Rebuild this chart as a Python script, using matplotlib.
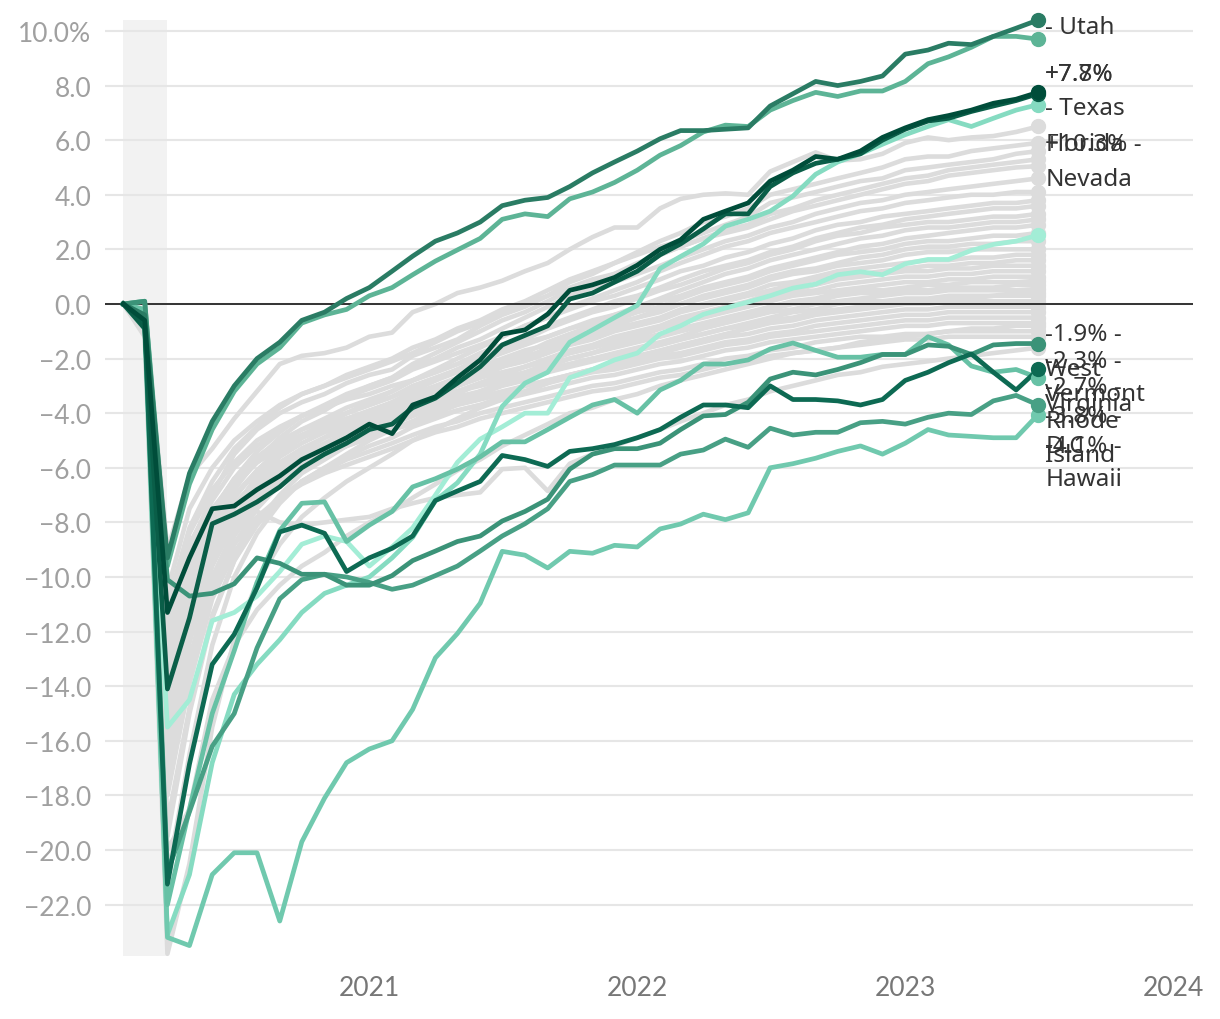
import matplotlib
matplotlib.use("Agg")
import matplotlib.pyplot as plt
import matplotlib.dates as mdates
import pandas as pd
from matplotlib.ticker import FuncFormatter

# Monthly change in jobs since Feb 2020, in percent
months = pd.date_range("2020-02-01", periods=42, freq="MS")

# ---- background states (gray) ----
gray_01 = [0, -0.3, -9.0, -6.3, -5.3, -4.2, -3.2, -2.2, -1.9, -1.8, -1.6, -1.2, -1.05, -0.3, 0.0, 0.4, 0.6, 0.85, 1.2, 1.5, 2.0, 2.45, 2.8, 2.8, 3.5, 3.85, 4.0, 4.05, 4.0, 4.85, 5.2, 5.55, 5.25, 5.3, 5.5, 5.9, 6.1, 6.0, 6.1, 6.15, 6.3, 6.5]
gray_02 = [0, -0.6, -12.5, -9.0, -7.0, -5.5, -4.6, -4.0, -3.6, -3.3, -2.9, -2.6, -2.4, -1.9, -1.6, -1.3, -0.8, -0.4, -0.1, 0.3, 0.8, 1.1, 1.5, 1.9, 2.3, 2.6, 3.0, 3.2, 3.5, 4.0, 4.2, 4.4, 4.6, 4.8, 5.0, 5.3, 5.4, 5.4, 5.6, 5.7, 5.8, 5.9]
gray_03 = [0, -0.5, -11.0, -8.2, -6.5, -5.3, -4.5, -3.8, -3.3, -3.0, -2.6, -2.3, -2.0, -1.6, -1.3, -0.9, -0.6, -0.2, 0.1, 0.5, 0.9, 1.2, 1.5, 1.8, 2.1, 2.3, 2.6, 2.9, 3.2, 3.7, 3.9, 4.1, 4.3, 4.5, 4.6, 4.9, 5.0, 5.1, 5.2, 5.3, 5.5, 5.6]
gray_04 = [0, -0.8, -14.0, -10.5, -8.2, -6.8, -5.7, -4.9, -4.3, -3.9, -3.4, -3.0, -2.7, -2.2, -1.8, -1.4, -1.0, -0.6, -0.3, 0.1, 0.5, 0.8, 1.1, 1.5, 1.8, 2.1, 2.4, 2.7, 2.9, 3.3, 3.5, 3.8, 4.0, 4.2, 4.4, 4.6, 4.7, 4.9, 5.0, 5.1, 5.2, 5.3]
gray_05 = [0, -0.4, -10.5, -7.5, -6.0, -5.0, -4.3, -3.7, -3.3, -3.0, -2.7, -2.4, -2.1, -1.8, -1.4, -1.0, -0.7, -0.3, 0.0, 0.3, 0.6, 0.9, 1.1, 1.4, 1.8, 2.1, 2.4, 2.6, 2.8, 3.1, 3.4, 3.6, 3.8, 4.0, 4.2, 4.4, 4.5, 4.7, 4.8, 4.9, 5.0, 5.05]
gray_06 = [0, -0.7, -13.0, -9.5, -7.6, -6.4, -5.4, -4.7, -4.1, -3.7, -3.3, -3.0, -2.7, -2.3, -2.0, -1.6, -1.3, -0.9, -0.5, -0.1, 0.3, 0.6, 0.8, 1.1, 1.4, 1.7, 2.0, 2.3, 2.5, 2.8, 3.0, 3.3, 3.5, 3.7, 3.8, 4.0, 4.1, 4.2, 4.3, 4.4, 4.5, 4.6]
gray_07 = [0, -0.9, -15.5, -11.8, -9.0, -7.5, -6.3, -5.5, -4.9, -4.4, -4.0, -3.6, -3.2, -2.8, -2.4, -2.0, -1.6, -1.2, -0.8, -0.5, -0.1, 0.2, 0.5, 0.8, 1.2, 1.5, 1.8, 2.1, 2.3, 2.6, 2.8, 3.0, 3.2, 3.4, 3.5, 3.7, 3.8, 3.9, 4.0, 4.0, 4.1, 4.1]
gray_08 = [0, -0.5, -12.0, -8.8, -7.2, -6.0, -5.2, -4.6, -4.1, -3.8, -3.4, -3.1, -2.8, -2.4, -2.1, -1.8, -1.5, -1.2, -0.8, -0.5, -0.2, 0.1, 0.3, 0.6, 0.9, 1.2, 1.4, 1.7, 1.9, 2.2, 2.4, 2.7, 2.9, 3.0, 3.2, 3.3, 3.4, 3.5, 3.6, 3.7, 3.7, 3.8]
gray_09 = [0, -0.6, -13.5, -10.0, -8.0, -6.7, -5.8, -5.1, -4.6, -4.2, -3.8, -3.5, -3.2, -2.8, -2.5, -2.2, -1.8, -1.5, -1.2, -0.8, -0.5, -0.2, 0.1, 0.3, 0.6, 0.9, 1.2, 1.4, 1.6, 1.9, 2.1, 2.4, 2.6, 2.8, 2.9, 3.1, 3.2, 3.3, 3.4, 3.5, 3.5, 3.6]
gray_10 = [0, -1.0, -17.0, -13.0, -10.0, -8.3, -7.0, -6.1, -5.4, -4.9, -4.4, -4.0, -3.6, -3.2, -2.8, -2.4, -2.0, -1.6, -1.3, -0.9, -0.6, -0.3, -0.1, 0.2, 0.5, 0.7, 1.0, 1.3, 1.5, 1.8, 2.0, 2.3, 2.5, 2.6, 2.8, 2.9, 3.0, 3.0, 3.1, 3.2, 3.2, 3.3]
gray_11 = [0, -0.7, -14.5, -10.8, -8.5, -7.1, -6.1, -5.3, -4.8, -4.4, -4.0, -3.7, -3.4, -3.0, -2.7, -2.4, -2.1, -1.8, -1.5, -1.2, -0.9, -0.6, -0.4, -0.1, 0.2, 0.5, 0.8, 1.1, 1.3, 1.6, 1.8, 2.0, 2.2, 2.4, 2.5, 2.7, 2.8, 2.8, 2.9, 3.0, 3.0, 3.1]
gray_12 = [0, -0.4, -11.5, -8.4, -6.8, -5.8, -5.0, -4.5, -4.1, -3.8, -3.5, -3.3, -3.0, -2.8, -2.5, -2.2, -1.9, -1.7, -1.4, -1.2, -0.9, -0.7, -0.4, -0.2, 0.1, 0.3, 0.6, 0.8, 1.0, 1.3, 1.5, 1.7, 1.9, 2.1, 2.2, 2.4, 2.5, 2.6, 2.7, 2.8, 2.8, 2.9]
gray_13 = [0, -0.8, -16.0, -12.0, -9.3, -7.8, -6.7, -5.9, -5.3, -4.9, -4.5, -4.2, -3.8, -3.4, -3.1, -2.8, -2.4, -2.1, -1.8, -1.4, -1.1, -0.8, -0.6, -0.3, -0.1, 0.2, 0.5, 0.7, 0.9, 1.2, 1.4, 1.6, 1.8, 1.9, 2.0, 2.2, 2.3, 2.3, 2.4, 2.5, 2.5, 2.6]
gray_14 = [0, -0.5, -12.8, -9.4, -7.6, -6.4, -5.6, -5.0, -4.6, -4.3, -4.0, -3.7, -3.4, -3.1, -2.8, -2.5, -2.3, -2.0, -1.7, -1.5, -1.2, -1.0, -0.7, -0.5, -0.2, 0.0, 0.3, 0.5, 0.7, 1.0, 1.2, 1.3, 1.5, 1.7, 1.8, 2.0, 2.1, 2.1, 2.2, 2.2, 2.3, 2.3]
gray_15 = [0, -0.9, -18.0, -13.8, -10.6, -8.8, -7.5, -6.6, -5.9, -5.4, -5.0, -4.6, -4.2, -3.8, -3.4, -3.0, -2.7, -2.3, -2.0, -1.6, -1.3, -1.1, -0.8, -0.5, -0.3, 0.0, 0.2, 0.4, 0.6, 0.9, 1.1, 1.2, 1.4, 1.5, 1.6, 1.8, 1.9, 1.9, 2.0, 2.0, 2.0, 2.0]
gray_16 = [0, -0.6, -14.0, -10.4, -8.3, -7.0, -6.1, -5.4, -4.9, -4.5, -4.2, -3.9, -3.6, -3.3, -3.0, -2.7, -2.5, -2.2, -1.9, -1.7, -1.4, -1.2, -0.9, -0.7, -0.5, -0.2, 0.0, 0.2, 0.4, 0.7, 0.8, 1.0, 1.2, 1.3, 1.4, 1.5, 1.6, 1.6, 1.7, 1.7, 1.8, 1.8]
gray_17 = [0, -0.7, -15.0, -11.2, -8.8, -7.4, -6.4, -5.6, -5.1, -4.7, -4.4, -4.1, -3.8, -3.5, -3.2, -2.9, -2.6, -2.3, -2.1, -1.8, -1.5, -1.3, -1.0, -0.8, -0.6, -0.3, -0.1, 0.1, 0.3, 0.5, 0.7, 0.9, 1.0, 1.1, 1.2, 1.3, 1.4, 1.4, 1.5, 1.5, 1.6, 1.6]
gray_18 = [0, -1.1, -19.5, -15.0, -11.5, -9.4, -8.0, -7.0, -6.2, -5.7, -5.2, -4.8, -4.4, -4.0, -3.6, -3.3, -2.9, -2.6, -2.3, -2.0, -1.7, -1.5, -1.2, -1.0, -0.8, -0.5, -0.3, -0.1, 0.1, 0.4, 0.5, 0.7, 0.9, 1.0, 1.1, 1.2, 1.2, 1.3, 1.3, 1.4, 1.4, 1.4]
gray_19 = [0, -0.5, -13.0, -9.6, -7.8, -6.6, -5.8, -5.2, -4.8, -4.5, -4.2, -4.0, -3.7, -3.5, -3.2, -3.0, -2.7, -2.5, -2.3, -2.0, -1.8, -1.6, -1.3, -1.1, -0.9, -0.6, -0.4, -0.2, 0.0, 0.2, 0.4, 0.5, 0.7, 0.8, 0.9, 1.0, 1.0, 1.1, 1.1, 1.2, 1.2, 1.2]
gray_20 = [0, -0.8, -16.5, -12.4, -9.6, -8.0, -6.9, -6.1, -5.5, -5.1, -4.7, -4.4, -4.1, -3.8, -3.5, -3.2, -2.9, -2.6, -2.3, -2.1, -1.8, -1.6, -1.4, -1.2, -0.9, -0.7, -0.5, -0.3, -0.1, 0.1, 0.3, 0.4, 0.5, 0.6, 0.7, 0.8, 0.8, 0.9, 0.9, 1.0, 1.0, 1.0]
gray_21 = [0, -0.6, -14.8, -11.0, -8.7, -7.4, -6.5, -5.8, -5.3, -4.9, -4.6, -4.3, -4.0, -3.7, -3.4, -3.2, -2.9, -2.7, -2.5, -2.2, -2.0, -1.8, -1.5, -1.3, -1.1, -0.9, -0.7, -0.5, -0.3, -0.1, 0.1, 0.2, 0.4, 0.5, 0.5, 0.6, 0.7, 0.7, 0.8, 0.8, 0.8, 0.85]
gray_22 = [0, -1.0, -21.0, -16.5, -12.5, -10.0, -8.4, -7.3, -6.5, -6.0, -5.5, -5.0, -4.6, -4.3, -3.9, -3.6, -3.2, -2.9, -2.6, -2.3, -2.0, -1.8, -1.6, -1.4, -1.2, -1.0, -0.8, -0.6, -0.4, -0.2, 0.0, 0.1, 0.3, 0.4, 0.4, 0.5, 0.5, 0.6, 0.6, 0.6, 0.7, 0.7]
gray_23 = [0, -0.7, -15.8, -11.8, -9.2, -7.8, -6.8, -6.1, -5.6, -5.2, -4.9, -4.6, -4.3, -4.0, -3.7, -3.4, -3.2, -2.9, -2.7, -2.4, -2.2, -2.0, -1.8, -1.6, -1.4, -1.2, -0.9, -0.7, -0.5, -0.3, -0.2, 0.0, 0.1, 0.2, 0.3, 0.4, 0.4, 0.5, 0.5, 0.5, 0.5, 0.55]
gray_24 = [0, -0.9, -17.5, -13.3, -10.2, -8.5, -7.3, -6.4, -5.8, -5.4, -5.0, -4.7, -4.4, -4.1, -3.8, -3.5, -3.3, -3.0, -2.8, -2.5, -2.3, -2.1, -1.9, -1.7, -1.5, -1.3, -1.1, -0.9, -0.7, -0.5, -0.3, -0.2, 0.0, 0.1, 0.1, 0.2, 0.2, 0.3, 0.3, 0.3, 0.4, 0.4]
gray_25 = [0, -0.5, -12.5, -9.3, -7.5, -6.5, -5.8, -5.3, -4.9, -4.6, -4.3, -4.1, -3.9, -3.6, -3.4, -3.2, -3.0, -2.8, -2.6, -2.4, -2.2, -2.0, -1.9, -1.7, -1.5, -1.3, -1.1, -0.9, -0.8, -0.6, -0.5, -0.3, -0.2, -0.1, 0.0, 0.1, 0.1, 0.2, 0.2, 0.3, 0.3, 0.3]
gray_26 = [0, -1.2, -23.8, -20.5, -15.5, -12.3, -10.2, -8.8, -7.8, -7.1, -6.5, -6.0, -5.5, -5.0, -4.6, -4.2, -3.8, -3.5, -3.2, -2.9, -2.6, -2.4, -2.1, -1.9, -1.7, -1.5, -1.3, -1.1, -0.9, -0.7, -0.6, -0.4, -0.3, -0.2, -0.1, 0.0, 0.0, 0.1, 0.1, 0.1, 0.1, 0.1]
gray_27 = [0, -0.8, -16.0, -12.1, -9.5, -8.1, -7.1, -6.4, -5.9, -5.5, -5.2, -4.9, -4.6, -4.3, -4.0, -3.7, -3.5, -3.3, -3.0, -2.8, -2.6, -2.4, -2.2, -2.0, -1.8, -1.6, -1.4, -1.2, -1.1, -0.9, -0.8, -0.6, -0.5, -0.4, -0.3, -0.2, -0.2, -0.1, -0.1, -0.1, -0.1, -0.1]
gray_28 = [0, -0.6, -14.2, -10.6, -8.5, -7.3, -6.5, -5.9, -5.5, -5.2, -4.9, -4.6, -4.4, -4.1, -3.8, -3.6, -3.4, -3.2, -3.0, -2.8, -2.6, -2.4, -2.3, -2.1, -1.9, -1.8, -1.6, -1.4, -1.3, -1.1, -1.0, -0.8, -0.7, -0.6, -0.5, -0.4, -0.4, -0.3, -0.3, -0.3, -0.3, -0.3]
gray_29 = [0, -1.0, -19.0, -14.8, -11.4, -9.4, -8.1, -7.2, -6.5, -6.0, -5.6, -5.2, -4.9, -4.5, -4.2, -3.9, -3.7, -3.4, -3.2, -2.9, -2.7, -2.5, -2.4, -2.2, -2.0, -1.9, -1.7, -1.5, -1.4, -1.2, -1.1, -1.0, -0.9, -0.8, -0.7, -0.6, -0.6, -0.5, -0.5, -0.5, -0.5, -0.5]
gray_30 = [0, -0.7, -15.2, -11.5, -9.1, -7.8, -6.9, -6.3, -5.8, -5.5, -5.2, -4.9, -4.6, -4.4, -4.1, -3.9, -3.7, -3.5, -3.3, -3.1, -2.9, -2.7, -2.6, -2.4, -2.2, -2.1, -1.9, -1.7, -1.6, -1.4, -1.3, -1.2, -1.1, -1.0, -0.9, -0.8, -0.8, -0.7, -0.7, -0.7, -0.7, -0.7]
gray_31 = [0, -0.9, -17.8, -13.9, -10.8, -9.1, -7.9, -7.1, -6.5, -6.1, -5.7, -5.4, -5.1, -4.8, -4.5, -4.3, -4.0, -3.8, -3.6, -3.4, -3.2, -3.0, -2.9, -2.7, -2.5, -2.4, -2.2, -2.0, -1.9, -1.7, -1.6, -1.4, -1.3, -1.2, -1.2, -1.1, -1.1, -1.0, -1.0, -1.0, -1.0, -1.0]
gray_32 = [0, -0.8, -16.8, -13.0, -10.3, -8.8, -7.8, -7.1, -6.6, -6.2, -5.9, -5.6, -5.3, -5.0, -4.7, -4.5, -4.2, -4.0, -3.8, -3.6, -3.4, -3.2, -3.1, -2.9, -2.7, -2.6, -2.4, -2.2, -2.1, -1.9, -1.8, -1.7, -1.6, -1.5, -1.4, -1.3, -1.3, -1.2, -1.2, -1.2, -1.2, -1.2]
gray_33 = [0, -0.6, -13.5, -10.0, -8.0, -7.2, -7.6, -8.0, -8.1, -8.0, -7.9, -7.8, -7.5, -7.3, -7.1, -7.0, -6.9, -6.05, -6.0, -6.85, -5.85, -5.5, -5.2, -4.9, -4.6, -4.3, -4.0, -3.7, -3.5, -3.2, -3.0, -2.8, -2.6, -2.5, -2.3, -2.2, -2.1, -2.0, -1.9, -1.8, -1.7, -1.6]
gray_34 = [0, -1.1, -20.0, -18.5, -14.5, -12.5, -11.2, -10.3, -9.6, -9.1, -8.5, -8.0, -7.6, -7.1, -6.6, -6.1, -5.7, -5.2, -4.8, -4.4, -4.0, -3.8, -3.5, -3.3, -3.0, -2.8, -2.6, -2.4, -2.2, -2.0, -1.8, -1.7, -1.6, -1.4, -1.3, -1.2, -1.1, -1.0, -0.9, -0.9, -0.8, -0.8]

gray_series = [gray_01, gray_02, gray_03, gray_04, gray_05, gray_06, gray_07, gray_08,
               gray_09, gray_10, gray_11, gray_12, gray_13, gray_14, gray_15, gray_16,
               gray_17, gray_18, gray_19, gray_20, gray_21, gray_22, gray_23, gray_24,
               gray_25, gray_26, gray_27, gray_28, gray_29, gray_30, gray_31, gray_32,
               gray_33, gray_34]

# ---- highlighted states ----
utah = [0, -0.4, -9.3, -6.2, -4.3, -3.0, -2.0, -1.4, -0.6, -0.3, 0.2, 0.6, 1.2, 1.75, 2.3, 2.6, 3.0, 3.6, 3.8, 3.9, 4.3, 4.8, 5.2, 5.6, 6.05, 6.35, 6.35, 6.4, 6.45, 7.25, 7.7, 8.15, 8.0, 8.15, 8.35, 9.15, 9.3, 9.55, 9.5, 9.8, 10.1, 10.4]
top_second = [0, 0.1, -9.6, -6.6, -4.6, -3.2, -2.2, -1.6, -0.7, -0.4, -0.2, 0.3, 0.6, 1.07, 1.57, 1.98, 2.4, 3.1, 3.3, 3.2, 3.85, 4.1, 4.45, 4.9, 5.45, 5.8, 6.3, 6.55, 6.5, 7.1, 7.45, 7.75, 7.6, 7.8, 7.8, 8.15, 8.8, 9.05, 9.4, 9.8, 9.8, 9.7]
texas = [0, -0.6, -11.3, -9.3, -7.5, -7.4, -6.8, -6.3, -5.7, -5.3, -4.9, -4.4, -4.75, -3.7, -3.4, -2.7, -2.05, -1.1, -0.95, -0.37, 0.5, 0.7, 0.97, 1.42, 2.0, 2.35, 3.1, 3.4, 3.7, 4.5, 4.9, 5.4, 5.3, 5.6, 6.1, 6.45, 6.75, 6.9, 7.1, 7.35, 7.5, 7.75]
dark_second = [0, -0.9, -14.1, -11.5, -8.05, -7.7, -7.25, -6.7, -6.0, -5.5, -5.1, -4.6, -4.4, -3.8, -3.45, -2.9, -2.3, -1.5, -1.15, -0.8, 0.18, 0.4, 0.8, 1.2, 1.8, 2.2, 2.75, 3.3, 3.3, 4.3, 4.8, 5.15, 5.3, 5.5, 6.0, 6.4, 6.7, 6.8, 7.05, 7.25, 7.45, 7.7]
florida = [0, -0.8, -23.1, -20.9, -16.8, -14.3, -13.2, -12.3, -11.3, -10.6, -10.3, -10.0, -9.3, -8.55, -7.2, -6.55, -5.5, -3.75, -2.9, -2.5, -1.4, -0.95, -0.5, -0.05, 1.3, 1.74, 2.2, 2.85, 3.1, 3.4, 3.95, 4.75, 5.2, 5.5, 5.85, 6.2, 6.5, 6.75, 6.5, 6.8, 7.1, 7.3]
nevada = [0, -0.9, -15.5, -14.5, -11.6, -11.3, -10.7, -9.8, -8.8, -8.5, -8.7, -9.6, -8.9, -8.2, -7.0, -5.8, -4.95, -4.5, -4.0, -4.0, -2.7, -2.4, -2.05, -1.8, -1.1, -0.8, -0.38, -0.15, 0.07, 0.3, 0.58, 0.73, 1.07, 1.18, 1.07, 1.47, 1.63, 1.63, 1.96, 2.18, 2.3, 2.52]
low_first = [0, 0.1, -10.1, -10.7, -10.6, -10.25, -9.3, -9.5, -9.9, -9.9, -10.3, -10.3, -9.95, -9.4, -9.05, -8.7, -8.5, -7.95, -7.6, -7.15, -6.05, -5.5, -5.3, -5.3, -5.1, -4.6, -4.1, -4.05, -3.6, -2.75, -2.5, -2.6, -2.4, -2.15, -1.85, -1.85, -1.5, -1.55, -1.85, -1.5, -1.45, -1.45]
west_virginia = [0, -0.7, -21.25, -16.85, -13.2, -12.1, -10.4, -8.35, -8.1, -8.4, -9.8, -9.3, -8.95, -8.5, -7.2, -6.85, -6.5, -5.55, -5.7, -5.95, -5.4, -5.3, -5.15, -4.9, -4.6, -4.15, -3.7, -3.7, -3.8, -3.0, -3.5, -3.5, -3.55, -3.7, -3.5, -2.8, -2.5, -2.15, -1.83, -2.5, -3.15, -2.4]
vermont = [0, -0.2, -22.0, -18.5, -15.0, -12.7, -10.2, -8.3, -7.3, -7.25, -8.7, -8.1, -7.6, -6.7, -6.4, -6.05, -5.6, -5.05, -5.05, -4.6, -4.15, -3.7, -3.5, -4.0, -3.15, -2.8, -2.2, -2.2, -2.05, -1.65, -1.43, -1.7, -1.95, -1.95, -1.85, -1.85, -1.2, -1.5, -2.27, -2.5, -2.4, -2.7]
rhode_island = [0, -0.5, -20.8, -18.6, -16.2, -15.0, -12.6, -10.8, -10.1, -9.9, -10.0, -10.2, -10.45, -10.3, -9.95, -9.6, -9.05, -8.5, -8.05, -7.5, -6.5, -6.25, -5.9, -5.9, -5.9, -5.5, -5.35, -4.95, -5.25, -4.55, -4.8, -4.7, -4.7, -4.35, -4.3, -4.4, -4.15, -4.0, -4.05, -3.55, -3.35, -3.7]
hawaii = [0, -0.3, -23.2, -23.5, -20.9, -20.1, -20.1, -22.6, -19.7, -18.1, -16.8, -16.3, -16.0, -14.85, -12.96, -12.07, -10.96, -9.06, -9.2, -9.67, -9.06, -9.13, -8.84, -8.9, -8.24, -8.06, -7.7, -7.9, -7.65, -6.0, -5.85, -5.65, -5.4, -5.2, -5.5, -5.1, -4.6, -4.8, -4.85, -4.9, -4.9, -4.05]

# drawn lightest first so the darkest greens sit on top
highlights = [
    (nevada, "#a3edd6"),
    (florida, "#85dbc1"),
    (hawaii, "#70c9ae"),
    (vermont, "#67c1a5"),
    (top_second, "#5db496"),
    (rhode_island, "#48a085"),
    (low_first, "#3b9378"),
    (utah, "#2a7c64"),
    (west_virginia, "#0d6a53"),
    (dark_second, "#0a5e48"),
    (texas, "#004d3a"),
]

# end labels: (series, text, vertical offset in px below the end point)
end_labels = [
    (utah, "+10.4%", -29), (utah, "- Utah", 7),
    (texas, "+7.8%", -18), (texas, "- Texas", 16),
    (dark_second, "+7.7%", -20),
    (florida, "+10.3% -", 39), (florida, "Florida", 39),
    (nevada, "Nevada", -56),
    (low_first, "-1.9% -", -10),
    (west_virginia, "-2.3% -", -8), (west_virginia, "West", 0), (west_virginia, "Virginia", 35),
    (vermont, "-2.7% -", 9), (vermont, "Vermont", 16),
    (rhode_island, "-3.8% -", 11), (rhode_island, "Rhode", 16), (rhode_island, "Island", 50),
    (hawaii, "-4.1% -", 31), (hawaii, "D.C.", 31), (hawaii, "Hawaii", 64),
]

fig = plt.figure(figsize=(12.2, 10.2), dpi=100)
ax = fig.add_axes([0.0861, 0.0618, 0.8918, 0.9176])

ax.axvspan(pd.Timestamp("2020-02-01"), pd.Timestamp("2020-04-01"),
           color="#f2f2f2", zorder=0, lw=0)

for vals in gray_series:
    ax.plot(months, vals, color="#dcdcdc", lw=3.3, zorder=2,
            solid_joinstyle="round", clip_on=False)
    ax.plot(months[-1], vals[-1], "o", color="#dcdcdc", ms=10, zorder=2, clip_on=False)

for vals, col in highlights:
    ax.plot(months, vals, color=col, lw=3.4, zorder=3,
            solid_joinstyle="round", clip_on=False)
    ax.plot(months[-1], vals[-1], "o", color=col, ms=10, zorder=4, clip_on=False)

ax.axhline(0, color="#333333", lw=1.4, zorder=2.5)

for vals, txt, dy in end_labels:
    ax.annotate(txt, xy=(months[-1], vals[-1]), xytext=(7, -dy),
                textcoords="offset pixels", ha="left", va="center",
                fontsize=17.5, color="#333333", family=["Noto Sans", "DejaVu Sans"],
                annotation_clip=False, zorder=5)

ax.set_ylim(-23.88, 10.4)
ax.set_xlim(pd.Timestamp("2020-01-07"), pd.Timestamp("2024-01-28"))

ax.set_yticks(range(-22, 11, 2))
ax.yaxis.set_major_formatter(FuncFormatter(
    lambda v, _: "10.0%" if v >= 10 else f"{v:.1f}".replace("-", "\u2212")))
ax.set_xticks([pd.Timestamp(f"{y}-01-01") for y in (2021, 2022, 2023, 2024)])
ax.xaxis.set_major_formatter(mdates.DateFormatter("%Y"))

ax.yaxis.grid(True, color="#e6e6e6", lw=1.5, zorder=1)
ax.set_axisbelow(True)
for s in ax.spines.values():
    s.set_visible(False)
ax.tick_params(axis="y", length=0, pad=10, labelsize=19, labelcolor="#a0a0a0")
ax.tick_params(axis="x", length=0, pad=14, labelsize=19, labelcolor="#777777")
for lab in ax.get_xticklabels() + ax.get_yticklabels():
    lab.set_family(["Lato", "DejaVu Sans"])

fig.savefig("out.png", dpi=100)
